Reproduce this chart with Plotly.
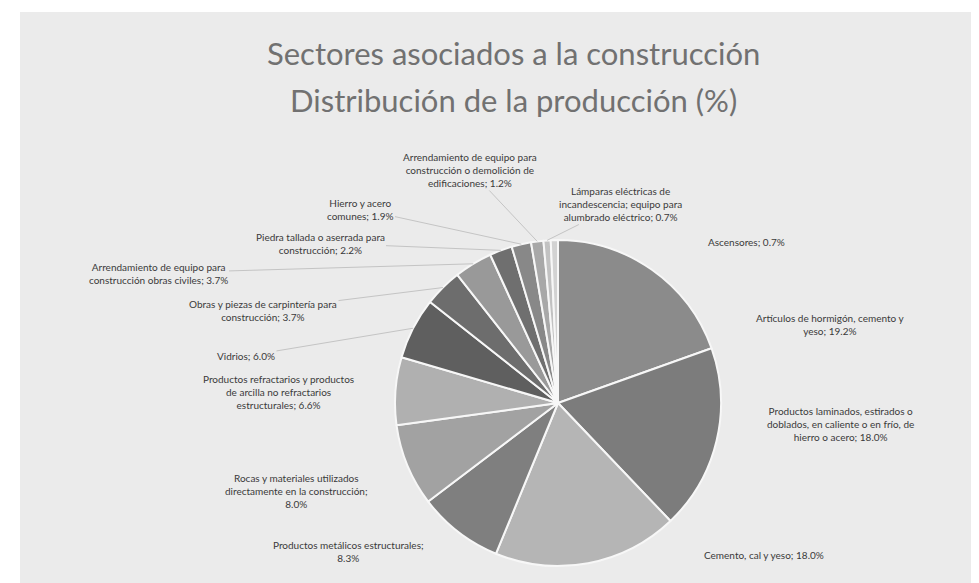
import math

import plotly.graph_objects as go

# --- datos ---
sectores = [
    "Artículos de hormigón, cemento y<br>yeso",
    "Productos laminados, estirados o<br>doblados, en caliente o en frío, de<br>hierro o acero",
    "Cemento, cal y yeso",
    "Productos metálicos estructurales;<br>",
    "Rocas y materiales utilizados<br>directamente en la construcción;<br>",
    "Productos refractarios y productos<br>de arcilla no refractarios<br>estructurales",
    "Vidrios",
    "Obras y piezas de carpintería para<br>construcción",
    "Arrendamiento de equipo para<br>construcción obras civiles",
    "Piedra tallada o aserrada para<br>construcción",
    "Hierro y acero<br>comunes",
    "Arrendamiento de equipo para<br>construcción o demolición de<br>edificaciones",
    "Lámparas eléctricas de<br>incandescencia; equipo para<br>alumbrado eléctrico",
    "Ascensores",
]
produccion = [19.2, 18.0, 18.0, 8.3, 8.0, 6.6, 6.0, 3.7, 3.7, 2.2, 1.9, 1.2, 0.7, 0.7]
grises = [
    "#8b8b8b", "#7c7c7c", "#b5b5b5", "#7f7f7f", "#a2a2a2", "#b0b0b0", "#5f5f5f",
    "#6d6d6d", "#999999", "#6f6f6f", "#888888", "#a8a8a8", "#c2c2c2", "#d2d2d2",
]

# posición de las etiquetas (px, centro del texto) y si llevan línea guía
etiqueta_xy = [
    (822, 316), (832, 416), (756, 547), (340, 543), (288, 483), (270, 384),
    (238, 348), (255, 302), (150, 265), (312, 235), (352, 201), (462, 162),
    (612, 196), (738, 234),
]
con_linea = [False, False, False, False, False, False,
             True, True, True, True, True, True, True, False]

W, H = 979, 583
CX, CY, R = 550, 395, 163

fig = go.Figure()

fig.add_trace(
    go.Pie(
        labels=[s.replace("<br>", " ") for s in sectores],
        values=produccion,
        sort=False,
        direction="clockwise",
        rotation=0,
        textinfo="none",
        hoverinfo="label+value",
        marker=dict(colors=grises, line=dict(color="#f7f7f7", width=2)),
        domain=dict(x=[(CX - R) / W, (CX + R) / W], y=[(H - CY - R) / H, (H - CY + R) / H]),
        showlegend=False,
    )
)

# etiquetas con líneas guía
total = sum(produccion)
acum = 0.0
anotaciones = []
for nombre, v, (lx, ly), linea in zip(sectores, produccion, etiqueta_xy, con_linea):
    mid = (acum + v / 2) / total * 2 * math.pi
    acum += v
    px = CX + R * math.sin(mid)
    py = CY - R * math.cos(mid)
    sep = "" if nombre.endswith("<br>") else "; "
    anotaciones.append(
        dict(
            x=px, y=py, xref="x", yref="y",
            ax=lx, ay=ly, axref="x", ayref="y",
            text=f"{nombre}{sep}{v:.1f}%",
            showarrow=True, arrowhead=0, arrowwidth=1,
            arrowcolor="#c4c4c4" if linea else "rgba(0,0,0,0)",
            standoff=0,
            font=dict(family="Lato", size=10, color="#3a3a3a"),
            align="center",
        )
    )

# titulo
anotaciones += [
    dict(x=505, y=45, xref="x", yref="y", showarrow=False,
         text="Sectores asociados a la construcción",
         font=dict(family="Lato", size=31, color="#717171")),
    dict(x=505, y=92, xref="x", yref="y", showarrow=False,
         text="Distribución de la producción (%)",
         font=dict(family="Lato", size=31, color="#717171")),
]

fig.update_layout(
    width=W,
    height=H,
    margin=dict(l=0, r=0, t=0, b=0),
    paper_bgcolor="#ffffff",
    plot_bgcolor="rgba(0,0,0,0)",
    xaxis=dict(range=[0, W], visible=False, fixedrange=True, domain=[0, 1]),
    yaxis=dict(range=[H, 0], visible=False, fixedrange=True, domain=[0, 1]),
    shapes=[
        dict(type="rect", xref="x", yref="y", x0=12, y0=4, x1=W, y1=H - 3,
             fillcolor="#ebebeb", line=dict(width=0), layer="below"),
    ],
    annotations=anotaciones,
)

fig.write_html("out.html")
